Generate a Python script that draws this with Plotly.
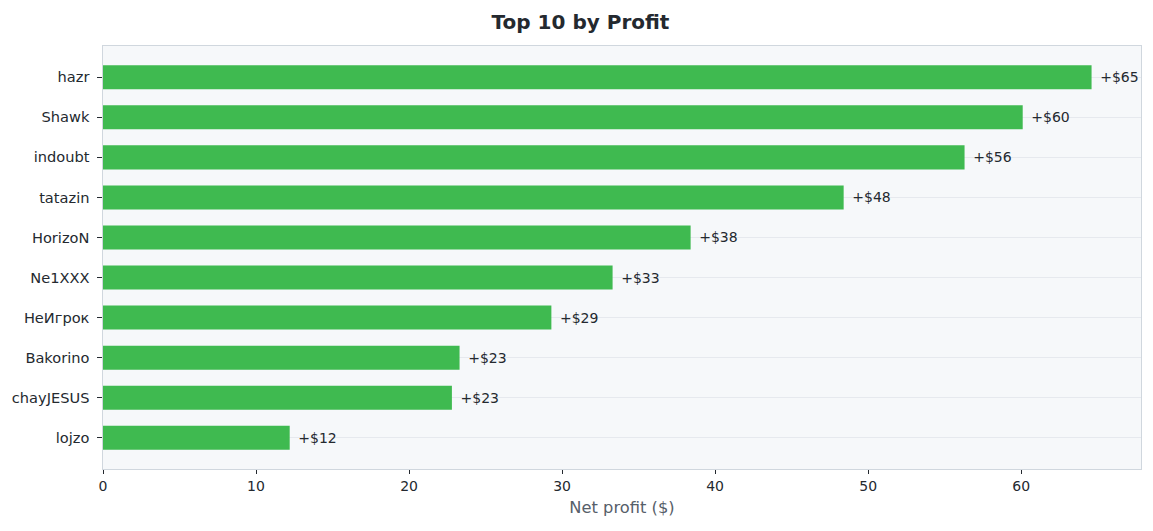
import plotly.graph_objects as go

players = ["hazr", "Shawk", "indoubt", "tatazin", "HorizoN", "Ne1XXX", "НеИгрок", "Bakorino", "chayJESUS", "lojzo"]
profit = [64.6, 60.1, 56.3, 48.4, 38.4, 33.3, 29.3, 23.3, 22.8, 12.2]

labels = ["\u2009\u2009+$%d" % round(v) for v in profit]

W, H = 1145, 523  # page body has an 8px margin inside the 1153x531 window

fig = go.Figure(go.Bar(
    x=profit, y=players, orientation="h",
    marker=dict(color="#3fba50", line=dict(width=0)),
    width=0.6,
    text=labels, textposition="outside", cliponaxis=False,
    textfont=dict(family="DejaVu Sans", size=14, color="#24292f"),
    hoverinfo="skip",
))

fig.update_layout(
    width=W, height=H,
    margin=dict(l=95, r=12, t=38, b=62, autoexpand=False),
    paper_bgcolor="white", plot_bgcolor="#f6f8fa",
    font=dict(family="DejaVu Sans", size=14, color="#24292f"),
    title=dict(text="<b>Top 10 by Profit</b>", x=0.5, xanchor="center",
               yref="container", y=1 - 14 / H, yanchor="middle",
               font=dict(size=20, color="#24292f")),
    showlegend=False,
)
fig.update_xaxes(
    range=[0, 67.83], dtick=10, showgrid=False, zeroline=False, automargin=False,
    showline=True, linecolor="#d0d7de", linewidth=1, mirror=True,
    ticks="outside", ticklen=4, tickcolor="#24292f",
    tickfont=dict(size=14, color="#24292f"),
    title=dict(text="Net profit ($)", font=dict(size=16.3, color="#57606a"), standoff=8),
)
fig.update_yaxes(
    autorange=False, range=[9.78, -0.78], automargin=False,
    categoryorder="array", categoryarray=players,
    showgrid=True, gridcolor="#e6e9ee", gridwidth=1,
    showline=True, linecolor="#d0d7de", linewidth=1, mirror=True,
    ticks="outside", ticklen=5, tickcolor="#24292f",
    tickfont=dict(size=14.6, color="#24292f"), ticksuffix=" ",
)

fig.write_html("out.html")
